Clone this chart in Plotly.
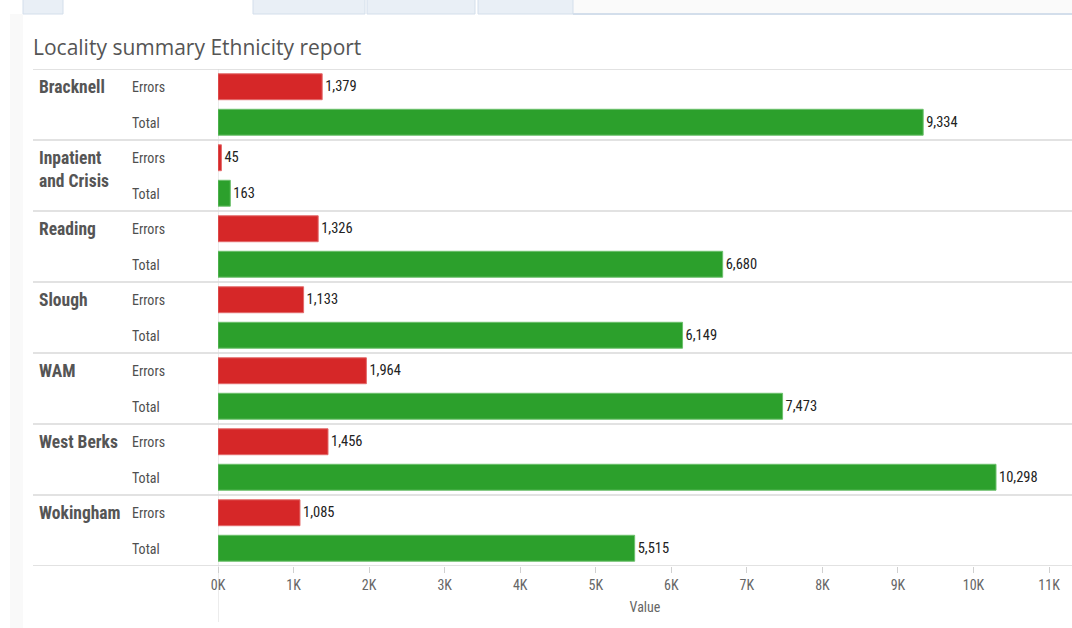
import plotly.graph_objects as go

# Locality summary data
localities = ["Bracknell", "Inpatient<br>and Crisis", "Reading", "Slough", "WAM", "West Berks", "Wokingham"]
measures = ["Errors", "Total"]
errors = [1379, 45, 1326, 1133, 1964, 1456, 1085]
totals = [9334, 163, 6680, 6149, 7473, 10298, 5515]
tick_values = [0, 1000, 2000, 3000, 4000, 5000, 6000, 7000, 8000, 9000, 10000, 11000]
tick_labels = ["0K", "1K", "2K", "3K", "4K", "5K", "6K", "7K", "8K", "9K", "10K", "11K"]

W, H = 1072, 628
TOP, BOTTOM = 69, 566          # pixel rows of the plotting band
X0 = 218                       # pixel column of the zero line
NARROW = "Liberation Sans Narrow, Arial Narrow, Roboto Condensed, DejaVu Sans Condensed, sans-serif"
RED, GREEN = "#d62728", "#2ca02c"
GRID = "#d9d9d9"


def px_x(px):
    return px / W


def px_y(py):
    return (BOTTOM - py) / (BOTTOM - TOP)


n = len(localities)
err_pos = [2 * i + 0.5 for i in range(n)]
tot_pos = [2 * i + 1.5 for i in range(n)]

fig = go.Figure()
fig.add_trace(go.Bar(
    x=errors, y=err_pos, orientation="h", width=0.73,
    marker=dict(color=RED, line=dict(color="#e36a6b", width=1)),
    text=errors, texttemplate="%{x:,}", textposition="outside",
    textfont=dict(family=NARROW, size=14.5, color="#222"),
    cliponaxis=False, hoverinfo="x", showlegend=False,
))
fig.add_trace(go.Bar(
    x=totals, y=tot_pos, orientation="h", width=0.73,
    marker=dict(color=GREEN, line=dict(color="#6cc06c", width=1)),
    text=totals, texttemplate="%{x:,}", textposition="outside",
    textfont=dict(family=NARROW, size=14.5, color="#222"),
    cliponaxis=False, hoverinfo="x", showlegend=False,
))

shapes = []
# page strip on the left and tab row on top
shapes.append(dict(type="rect", xref="paper", yref="paper", x0=px_x(10), x1=px_x(23),
                   y0=px_y(628), y1=px_y(14), fillcolor="#f9f9f9", line=dict(width=0), layer="below"))
shapes.append(dict(type="rect", xref="paper", yref="paper", x0=px_x(573), x1=1,
                   y0=px_y(14), y1=px_y(0), fillcolor="#fafafa", line=dict(width=0), layer="below"))
for a, b in [(23, 63), (253, 365), (367, 475), (478, 573)]:
    shapes.append(dict(type="rect", xref="paper", yref="paper", x0=px_x(a), x1=px_x(b),
                       y0=px_y(14), y1=px_y(-2), fillcolor="#e9eff6",
                       line=dict(color="#d3deeb", width=1), layer="below"))
shapes.append(dict(type="line", xref="paper", yref="paper", x0=px_x(573), x1=1,
                   y0=px_y(14), y1=px_y(14), line=dict(color="#d3deeb", width=2)))

# group separators
for g in range(n + 1):
    shapes.append(dict(type="line", xref="paper", yref="y", x0=px_x(33), x1=1,
                       y0=2 * g, y1=2 * g, line=dict(color=GRID, width=1.5), layer="below"))
# zero line running down through the axis area
shapes.append(dict(type="line", xref="x", yref="paper", x0=0, x1=0,
                   y0=px_y(622), y1=1, line=dict(color=GRID, width=1), layer="below"))

annotations = [dict(
    text="Locality summary Ethnicity report", xref="paper", yref="paper",
    x=px_x(31), y=px_y(47), xanchor="left", yanchor="middle", showarrow=False,
    font=dict(family="Open Sans, DejaVu Sans, sans-serif", size=21, color="#555"),
)]
for i, name in enumerate(localities):
    annotations.append(dict(
        text=name, xref="paper", yref="y", x=px_x(37), y=2 * i + 0.18,
        xanchor="left", yanchor="top", align="left", showarrow=False,
        font=dict(family=NARROW, size=17.5, color="#555", weight="bold"),
    ))
    for j, m in enumerate(measures):
        annotations.append(dict(
            text=m, xref="paper", yref="y", x=px_x(130), y=2 * i + j + 0.5 + 0.03 * j,
            xanchor="left", yanchor="middle", showarrow=False,
            font=dict(family=NARROW, size=14, color="#4f4f4f"),
        ))

fig.update_layout(
    width=W, height=H,
    margin=dict(l=0, r=0, t=TOP, b=H - BOTTOM, pad=0, autoexpand=False),
    paper_bgcolor="white", plot_bgcolor="white",
    barmode="overlay",
    shapes=shapes, annotations=annotations,
    xaxis=dict(
        domain=[px_x(X0), 1], range=[0, (W - X0) / 75.55 * 1000],
        tickvals=tick_values, ticktext=tick_labels,
        ticks="outside", ticklen=6, tickcolor="#d0d0d0", tickwidth=1,
        tickfont=dict(family=NARROW, size=14, color="#666"),
        showgrid=False, zeroline=False, showline=False, automargin=False,
        title=dict(text="Value", font=dict(family=NARROW, size=14, color="#666"), standoff=10),
        fixedrange=True,
    ),
    yaxis=dict(range=[2 * n, 0], visible=False, fixedrange=True, automargin=False),
)

fig.write_html("out.html")
